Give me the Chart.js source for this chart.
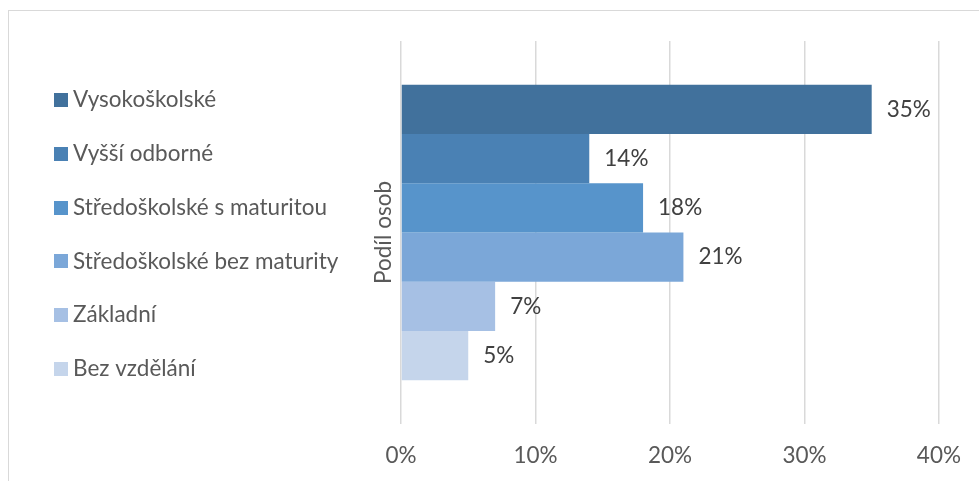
<!DOCTYPE html>
<html><head><meta charset="utf-8">
<script src="https://cdn.jsdelivr.net/npm/chart.js@4/dist/chart.umd.min.js"></script>
<style>
html,body{margin:0;padding:0;background:#fff;overflow:hidden}
#wrap{position:relative;width:979px;height:481px;overflow:hidden}
#frame{position:absolute;left:8px;top:10px;width:1000px;height:500px;border:1.5px solid #d9d9d9;box-sizing:border-box}
canvas{position:absolute;left:0;top:0}
</style></head><body>
<div id="wrap"><div id="frame"></div><canvas id="c" width="979" height="481"></canvas></div>
<script>
const categories = [''];
const seriesLabels = ['Vysokoškolské', 'Vyšší odborné', 'Středoškolské s maturitou', 'Středoškolské bez maturity', 'Základní', 'Bez vzdělání'];
const seriesValues = [35, 14, 18, 21, 7, 5];
const seriesColors = ['#41719c', '#4a81b4', '#5794cb', '#7ba7d8', '#a6c0e4', '#c5d5eb'];
const xTickValues = [0, 10, 20, 30, 40];
const axisTitle = 'Podíl osob';

const FONT = 'Lato';
const FS = 22.5;

const valueLabels = {
  id: 'valueLabels',
  afterDatasetsDraw(chart) {
    const ctx = chart.ctx;
    ctx.save();
    ctx.font = FS + 'px ' + FONT;
    ctx.fillStyle = '#404040';
    ctx.textBaseline = 'middle';
    ctx.textAlign = 'left';
    chart.data.datasets.forEach((ds, i) => {
      chart.getDatasetMeta(i).data.forEach((bar, j) => {
        ctx.fillText(ds.data[j] + '%', bar.x + 15, bar.y);
      });
    });
    ctx.restore();
  }
};

const sideLegend = {
  id: 'sideLegend',
  afterDraw(chart) {
    const ctx = chart.ctx;
    ctx.save();
    ctx.font = FS + 'px ' + FONT;
    ctx.textBaseline = 'middle';
    ctx.textAlign = 'left';
    chart.data.datasets.forEach((ds, i) => {
      const y = 100 + i * 53.8;
      ctx.fillStyle = ds.backgroundColor;
      ctx.fillRect(54, Math.round(y - 7), 14, 14);
      ctx.fillStyle = '#595959';
      ctx.fillText(ds.label, 73, y);
    });
    ctx.restore();
  }
};

function build() {
  new Chart(document.getElementById('c'), {
    type: 'bar',
    data: {
      labels: categories,
      datasets: seriesLabels.map((label, i) => ({
        label: label,
        data: [seriesValues[i]],
        backgroundColor: seriesColors[i],
        borderWidth: 0
      }))
    },
    options: {
      indexAxis: 'y',
      responsive: false,
      animation: false,
      devicePixelRatio: 1,
      categoryPercentage: 0.771,
      barPercentage: 1,
      layout: { padding: { left: 0, top: 41, right: 36, bottom: 0 } },
      plugins: { legend: { display: false }, tooltip: { enabled: false } },
      scales: {
        x: {
          min: 0, max: 40,
          afterBuildTicks(scale) { scale.ticks = xTickValues.map(v => ({ value: v })); },
          afterFit(scale) { scale.height = 57; },
          grid: { color: '#d9d9d9', lineWidth: 1.5, drawTicks: false },
          border: { display: false },
          ticks: {
            padding: 18,
            color: '#595959',
            font: { family: FONT, size: FS },
            callback: v => v + '%'
          }
        },
        y: {
          afterFit(scale) { scale.width = 401; },
          grid: { display: false },
          border: { display: false },
          ticks: { display: false },
          title: {
            display: true,
            text: axisTitle,
            color: '#595959',
            font: { family: FONT, size: FS },
            padding: { top: 370, bottom: 0 }
          }
        }
      }
    },
    plugins: [valueLabels, sideLegend]
  });
}
document.fonts.load(FS + 'px ' + FONT).then(build, build);
</script>
</body></html>
